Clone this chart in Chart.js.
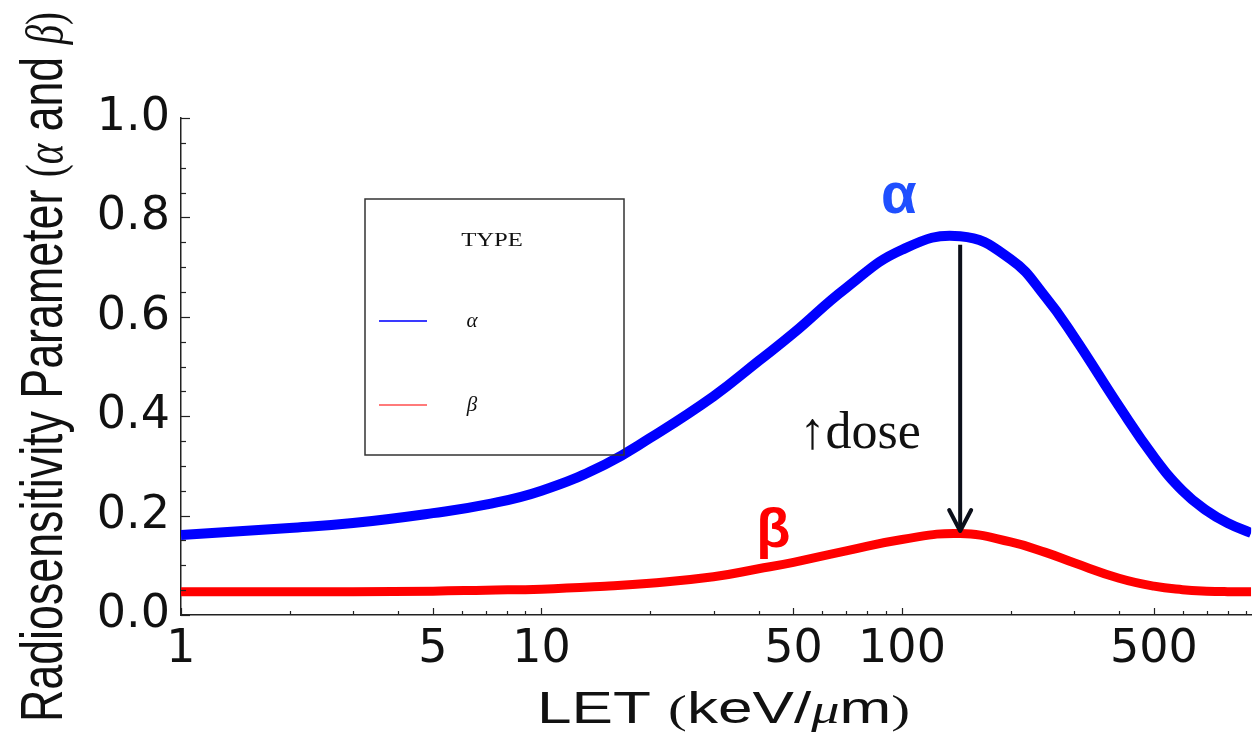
<!DOCTYPE html>
<html>
<head>
<meta charset="utf-8">
<script src="https://cdn.jsdelivr.net/npm/chart.js@4.4.1/dist/chart.umd.min.js"></script>
<style>
  html, body { margin: 0; padding: 0; background: #fff; }
  #wrap { width: 1253px; height: 734px; }
</style>
</head>
<body>
<div id="wrap"><canvas id="chart" width="1253" height="734"></canvas></div>
<script>
// LET values (keV/um) and the two radiosensitivity curves
const letValues = [1, 2, 3, 5, 7, 10, 15, 20, 30, 40, 50, 70, 100, 145, 200, 250, 300, 400, 500, 600, 700, 800, 930];
const alphaValues = [0.161, 0.175, 0.185, 0.205, 0.222, 0.25, 0.303, 0.356, 0.44, 0.511, 0.567, 0.658, 0.735, 0.762, 0.716, 0.64, 0.56, 0.42, 0.318, 0.25, 0.21, 0.185, 0.165];
const betaValues = [0.047, 0.047, 0.047, 0.048, 0.05, 0.052, 0.058, 0.064, 0.077, 0.093, 0.106, 0.129, 0.152, 0.164, 0.147, 0.126, 0.105, 0.074, 0.058, 0.051, 0.048, 0.047, 0.047];

const xTickLabels = [1, 5, 10, 50, 100, 500];
const yTickValues = [0, 0.2, 0.4, 0.6, 0.8, 1.0];
const xMax = 930;

// annotation anchors in data units
const arrowX = 145, arrowTop = 0.745, arrowBottom = 0.165;

const toPoints = vals => letValues.map((x, i) => ({ x: x, y: vals[i] }));

const SANS = '"Liberation Sans", Arial, sans-serif';
const SERIF = '"Liberation Serif", "DejaVu Serif", serif';

// draw a run of text pieces with different fonts, stretched to a given length
function drawRun(ctx, parts, targetLen, sy) {
  let total = 0;
  parts.forEach(p => { ctx.font = p.f; p.w = ctx.measureText(p.t).width; total += p.w; });
  const sx = targetLen / total;
  ctx.scale(sx, sy);
  let x = 0;
  parts.forEach(p => {
    ctx.font = p.f;
    ctx.fillText(p.t, x, 0);
    x += p.w;
  });
}

const decorPlugin = {
  id: "decor",
  afterDraw(chart) {
    const ctx = chart.ctx;
    const xs = chart.scales.x, ys = chart.scales.y;
    const area = chart.chartArea;

    // inward tick marks
    ctx.save();
    ctx.strokeStyle = "#222";
    ctx.lineWidth = 1.2;
    xs.ticks.forEach(t => {
      const px = Math.round(xs.getPixelForValue(t.value)) + 0.5;
      const len = xTickLabels.includes(t.value) ? 7 : 4;
      ctx.beginPath();
      ctx.moveTo(px, area.bottom);
      ctx.lineTo(px, area.bottom - len);
      ctx.stroke();
    });
    for (let i = 0; i <= 20; i++) {
      const v = i * 0.05;
      const py = Math.round(ys.getPixelForValue(v)) + 0.5;
      const len = i % 4 === 0 ? 9 : 5;
      ctx.beginPath();
      ctx.moveTo(area.left, py);
      ctx.lineTo(area.left + len, py);
      ctx.stroke();
    }
    ctx.restore();

    // legend box
    ctx.save();
    ctx.strokeStyle = "#333";
    ctx.lineWidth = 1.5;
    ctx.strokeRect(365, 199, 259, 256);
    ctx.fillStyle = "#111";
    ctx.textAlign = "center";
    ctx.textBaseline = "middle";
    ctx.save();
    ctx.translate(492, 241);
    ctx.scale(1.3, 1);
    ctx.font = "19px " + SERIF;
    ctx.fillText("TYPE", 0, 0);
    ctx.restore();
    const legendColors = ["#3a3aff", "#ff7a7a"];
    const legendRows = [321, 405];
    chart.data.datasets.forEach((ds, i) => {
      ctx.strokeStyle = legendColors[i];
      ctx.lineWidth = 2.2;
      ctx.beginPath();
      ctx.moveTo(379, legendRows[i]);
      ctx.lineTo(427, legendRows[i]);
      ctx.stroke();
      ctx.font = "italic 21px " + SERIF;
      ctx.fillStyle = "#111";
      ctx.fillText(ds.label, 472, legendRows[i]);
    });
    ctx.restore();

    // alpha / beta labels, dose arrow
    ctx.save();
    ctx.textAlign = "center";
    ctx.textBaseline = "alphabetic";
    ctx.fillStyle = "#1f4fff";
    ctx.font = "bold 58px " + SANS;
    ctx.fillText("α", xs.getPixelForValue(98), ys.getPixelForValue(0.808));
    ctx.fillStyle = "#ff0000";
    ctx.font = "bold 56px " + SANS;
    ctx.fillText("β", xs.getPixelForValue(44), ys.getPixelForValue(0.137));
    ctx.fillStyle = "#111";
    ctx.textAlign = "left";
    ctx.font = "52px " + SERIF;
    ctx.fillText("↑dose", xs.getPixelForValue(52), ys.getPixelForValue(0.336));

    const ax = xs.getPixelForValue(arrowX);
    const aTop = ys.getPixelForValue(arrowTop);
    const aBot = ys.getPixelForValue(arrowBottom);
    ctx.strokeStyle = "#0b0f1a";
    ctx.lineWidth = 4;
    ctx.beginPath();
    ctx.moveTo(ax, aTop);
    ctx.lineTo(ax, aBot - 3);
    ctx.stroke();
    ctx.lineCap = "round";
    ctx.lineJoin = "round";
    ctx.beginPath();
    ctx.moveTo(ax - 11, aBot - 23);
    ctx.lineTo(ax, aBot - 2);
    ctx.lineTo(ax + 11, aBot - 23);
    ctx.stroke();
    ctx.restore();

    // axis titles
    ctx.save();
    ctx.fillStyle = "#111";
    ctx.textBaseline = "alphabetic";
    ctx.translate(62, 722);
    ctx.rotate(-Math.PI / 2);
    drawRun(ctx, [
      { t: "Radiosensitivity Parameter ", f: "46px " + SANS },
      { t: "(", f: "40px " + SERIF },
      { t: "α", f: "italic 40px " + SERIF },
      { t: " and ", f: "46px " + SANS },
      { t: "β", f: "italic 40px " + SERIF },
      { t: ")", f: "40px " + SERIF }
    ], 710, 1.3);
    ctx.restore();

    ctx.save();
    ctx.fillStyle = "#111";
    ctx.textBaseline = "alphabetic";
    ctx.translate(537, 723);
    drawRun(ctx, [
      { t: "LET ", f: "44px " + SANS },
      { t: "(", f: "40px " + SERIF },
      { t: "keV/", f: "44px " + SANS },
      { t: "μ", f: "italic 40px " + SERIF },
      { t: "m", f: "44px " + SANS },
      { t: ")", f: "40px " + SERIF }
    ], 373, 1);
    ctx.restore();
  }
};

new Chart(document.getElementById("chart").getContext("2d"), {
  type: "line",
  data: {
    datasets: [
      {
        label: "α",
        data: toPoints(alphaValues),
        borderColor: "#0000ff",
        borderWidth: 10,
        pointRadius: 0,
        tension: 0.45,
        fill: false
      },
      {
        label: "β",
        data: toPoints(betaValues),
        borderColor: "#ff0000",
        borderWidth: 9,
        pointRadius: 0,
        tension: 0.45,
        fill: false
      }
    ]
  },
  options: {
    responsive: false,
    animation: false,
    events: [],
    layout: { padding: { top: 118, right: 0, bottom: 0, left: 0 } },
    scales: {
      x: {
        type: "logarithmic",
        min: 1,
        max: xMax,
        afterBuildTicks(scale) {
          const ticks = [];
          for (let d = 1; d <= xMax; d *= 10) {
            for (let m = 1; m <= 9; m++) {
              const v = m * d;
              if (v <= xMax) ticks.push({ value: v });
            }
          }
          scale.ticks = ticks;
        },
        afterFit(scale) { scale.height = 119; },
        grid: { display: false, drawTicks: false },
        border: { display: true, color: "#222", width: 1.5 },
        ticks: {
          autoSkip: false,
          maxRotation: 0,
          padding: 7,
          color: "#111",
          font: { size: 46, family: "DejaVu Sans" },
          callback: v => (xTickLabels.includes(v) ? String(v) : "")
        }
      },
      y: {
        min: 0,
        max: 1,
        afterBuildTicks(scale) {
          scale.ticks = yTickValues.map(v => ({ value: v }));
        },
        afterFit(scale) { scale.width = 181; },
        grid: { display: false, drawTicks: false },
        border: { display: true, color: "#222", width: 1.5 },
        ticks: {
          padding: 11,
          color: "#111",
          font: { size: 46, family: "DejaVu Sans" },
          callback: v => v.toFixed(1)
        }
      }
    },
    plugins: {
      legend: { display: false },
      tooltip: { enabled: false }
    }
  },
  plugins: [decorPlugin]
});
</script>
</body>
</html>
